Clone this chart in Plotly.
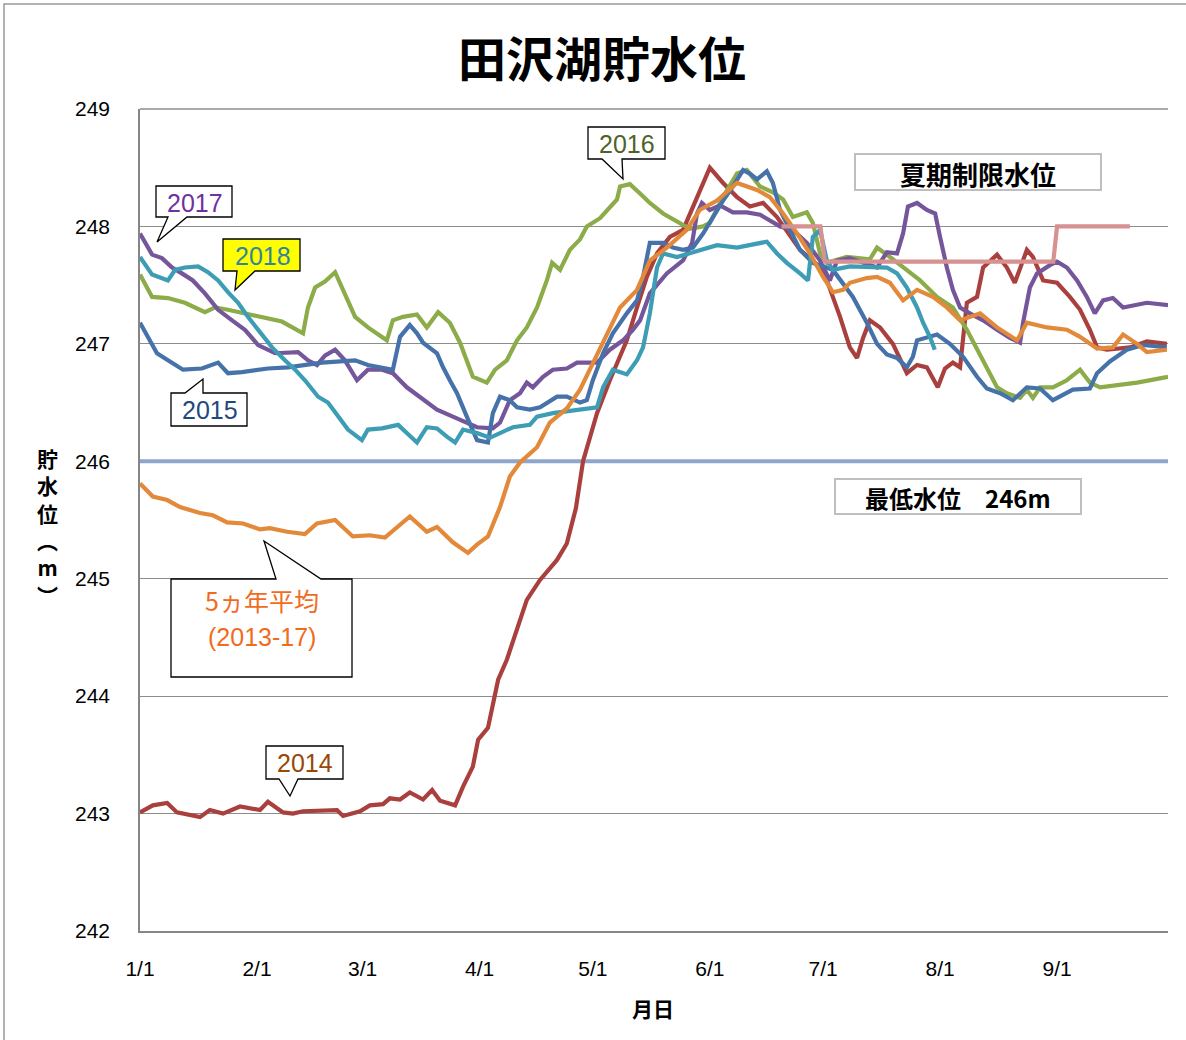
import plotly.graph_objects as go

# ---------------- data (x = days since Jan 1, y = water level in m) ----------------
month_ticks = [0, 31, 59, 90, 120, 151, 181, 212, 243]
month_labels = ["1/1", "2/1", "3/1", "4/1", "5/1", "6/1", "7/1", "8/1", "9/1"]

d2014 = [0, 3.4, 7.2, 9.8, 15.9, 18.5, 22, 26.5, 31.8, 33.9, 37.9, 40.5, 43.2, 52.2, 53.8, 58.3,
         60.9, 64.4, 66.2, 68.9, 71.5, 75, 77.4, 79.5, 83.5, 85.6, 88.2, 89.6, 92.2, 93.5, 94.9,
         97.2, 99.9, 102.5, 106, 110.5, 113.1, 115.5, 117.4, 121.1, 124.5, 127.2, 129, 131.7,
         134.3, 137, 140.4, 143.9, 147.6, 151, 154.5, 158.2, 161.6, 165.1, 168.8, 174.9, 181,
         185.5, 188.1, 190, 191.6, 193.4, 196.1, 199.5, 203.2, 205.9, 208.5, 211.4, 213.3, 215.4,
         217.3, 219.1, 221.8, 223.4, 227.1, 229.7, 231.8, 235, 236.6, 239.3, 243, 246.4, 249.1,
         251.7, 253.6, 256.2, 262.3, 266.8, 272.1]
v2014 = [243.01, 243.07, 243.09, 243.01, 242.97, 243.03, 243.0, 243.06, 243.03, 243.1, 243.01,
         243.0, 243.02, 243.03, 242.98, 243.02, 243.07, 243.08, 243.13, 243.12, 243.18, 243.12,
         243.2, 243.11, 243.07, 243.23, 243.4, 243.63, 243.73, 243.94, 244.14, 244.31, 244.56,
         244.82, 244.99, 245.16, 245.3, 245.6, 246.0, 246.41, 246.69, 246.9, 247.03, 247.31,
         247.57, 247.77, 247.91, 247.97, 248.25, 248.5, 248.37, 248.25, 248.17, 248.2, 248.08,
         247.8, 247.63, 247.23, 246.97, 246.88, 247.05, 247.2, 247.14, 247.0, 246.75, 246.82,
         246.8, 246.63, 246.79, 246.84, 246.8, 247.35, 247.4, 247.65, 247.76, 247.65, 247.52,
         247.8, 247.74, 247.54, 247.52, 247.4, 247.29, 247.12, 246.97, 246.95, 246.97, 247.02,
         247.0]

d2015 = [0, 2.1, 4.5, 7.4, 11.4, 16.4, 20.7, 23.3, 27, 33.9, 39.2, 48.2, 57, 60.4, 67, 68.9,
         71.5, 73.4, 75, 78.7, 80.3, 82.1, 84, 86.6, 89.3, 92.2, 93.5, 95.4, 98, 99.9, 103.3, 106,
         110.5, 113.1, 116.6, 118.4, 120, 122.7, 125.3, 129, 131.7, 133.3, 135.1, 138.6, 141.2,
         143.9, 146.5, 149.2, 151.8, 154.5, 157.1, 159.8, 161.6, 163.5, 166.1, 167.7, 169.6,
         172.2, 174.9, 178.3, 183.6, 188.9, 192.6, 195.3, 197.9, 200.6, 203.2, 204.8, 205.9,
         211.2, 214.6, 218.1, 221.8, 224.4, 227.9, 231.3, 235, 238.5, 241.9, 247.2, 251.7, 253.6,
         257, 261.5, 265.8, 272.1]
v2015 = [247.18, 247.06, 246.92, 246.86, 246.78, 246.79, 246.84, 246.75, 246.76, 246.79, 246.8,
         246.84, 246.86, 246.82, 246.78, 247.06, 247.16, 247.09, 247.01, 246.92, 246.8, 246.69,
         246.58, 246.38, 246.18, 246.16, 246.41, 246.55, 246.52, 246.46, 246.44, 246.46, 246.55,
         246.55, 246.5, 246.52, 246.69, 246.92, 247.09, 247.26, 247.37, 247.57, 247.86, 247.86,
         247.82, 247.8, 247.82, 247.94, 248.08, 248.22, 248.34, 248.48, 248.45, 248.4, 248.47,
         248.37, 248.14, 247.97, 247.8, 247.69, 247.63, 247.4, 247.18, 247.0, 246.91, 246.88,
         246.8, 246.89, 247.03, 247.08, 247.0, 246.89, 246.72, 246.62, 246.58, 246.52, 246.63,
         246.62, 246.52, 246.61, 246.62, 246.75, 246.85, 246.95, 246.99, 246.97]

d2016 = [0, 3.2, 7.4, 11.9, 17.2, 19.9, 23.3, 32.3, 37.6, 43.2, 44.5, 46.4, 49, 51.7, 54.3, 57,
         60.4, 64.1, 65.4, 67, 69.7, 73.4, 76, 79, 82.1, 84.8, 88.2, 91.9, 94.1, 97.2, 99.9,
         102.5, 105.2, 107.8, 109.2, 111.3, 113.9, 116.6, 118.4, 121.9, 124.5, 126.4, 127.2,
         129.8, 132.5, 135.1, 138.6, 143.1, 145.7, 149.2, 151, 154.5, 158.2, 160.8, 164.3, 167.7,
         170.4, 173, 176.7, 178.3, 180.2, 182, 187.3, 193.4, 195.3, 198.7, 203.2, 206.7, 211.2,
         215.4, 219.1, 221.8, 224.4, 227.1, 229.7, 233.2, 235, 236.6, 238.5, 241.9, 245.6, 249.1,
         251.7, 254.4, 264.2, 270.3, 272.4]
v2016 = [247.59, 247.4, 247.39, 247.35, 247.27, 247.31, 247.29, 247.23, 247.19, 247.09, 247.31,
         247.48, 247.53, 247.61, 247.43, 247.23, 247.14, 247.06, 247.03, 247.2, 247.23, 247.25,
         247.14, 247.27, 247.18, 247.01, 246.72, 246.67, 246.78, 246.86, 247.03, 247.14, 247.31,
         247.54, 247.69, 247.63, 247.8, 247.89, 248.0, 248.07, 248.17, 248.23, 248.34, 248.36,
         248.28, 248.2, 248.11, 248.03, 247.98, 248.0, 248.03, 248.25, 248.45, 248.48, 248.34,
         248.29, 248.23, 248.08, 248.12, 248.03, 247.77, 247.69, 247.74, 247.72, 247.82, 247.74,
         247.63, 247.54, 247.4, 247.31, 247.12, 246.95, 246.8, 246.63, 246.58, 246.54, 246.61,
         246.54, 246.63, 246.63, 246.69, 246.78, 246.67, 246.63, 246.67, 246.71, 246.72]

d2017 = [0, 1.3, 3.2, 5.8, 8.5, 11.1, 14, 17.2, 20.7, 24.4, 27.8, 31.3, 35.8, 41.9, 44.5, 46.9,
         49, 51.7, 54.3, 57.5, 60.4, 64.1, 67, 70.7, 74.2, 78.7, 82.9, 86.6, 89.3, 93.5, 95.4, 98,
         100.7, 102.5, 104.1, 106.8, 109.4, 113.1, 115.8, 121.1, 124.5, 128, 130.6, 132.5, 135.1,
         139.6, 143.9, 146.3, 147.6, 148.9, 151, 153.7, 157.1, 160.8, 164.3, 166.9, 169.6, 173,
         176.7, 180.2, 182.8, 184.7, 188.1, 195.3, 197.9, 200.6, 202.2, 203.5, 205.9, 208.5,
         210.7, 212, 213.8, 215.4, 217.3, 219.9, 223.4, 227.1, 230.5, 233.2, 234, 235.8, 237.7,
         241.1, 243, 245.6, 248.3, 250.9, 253, 255.2, 257.8, 260.5, 266.8, 272.4]
v2017 = [247.94, 247.86, 247.76, 247.73, 247.65, 247.6, 247.54, 247.43, 247.29, 247.2, 247.12,
         246.99, 246.92, 246.93, 246.86, 246.82, 246.9, 246.95, 246.86, 246.69, 246.78, 246.78,
         246.75, 246.63, 246.55, 246.44, 246.38, 246.33, 246.29, 246.28, 246.33, 246.52, 246.58,
         246.67, 246.63, 246.72, 246.78, 246.79, 246.84, 246.84, 246.95, 247.03, 247.12, 247.2,
         247.43, 247.6, 247.71, 247.86, 248.11, 248.2, 248.14, 248.18, 248.12, 248.12, 248.1,
         248.05, 248.0, 247.97, 247.86, 247.71, 247.54, 247.71, 247.73, 247.65, 247.78, 247.77,
         247.94, 248.17, 248.2, 248.14, 248.11, 247.91, 247.65, 247.46, 247.31, 247.26, 247.2,
         247.12, 247.05, 247.01, 247.18, 247.48, 247.6, 247.67, 247.7, 247.65, 247.54, 247.4,
         247.26, 247.37, 247.39, 247.31, 247.35, 247.33]

d2018 = [0, 3.2, 7.4, 9.3, 11.9, 15.4, 18, 20.7, 23.3, 26, 28.6, 31.3, 35, 38.4, 41.1, 43.7,
         47.2, 49.8, 52.5, 55.1, 58.8, 60.4, 64.1, 68.4, 70.7, 73.4, 76, 78.7, 81.3, 83.5, 85.6,
         89.3, 92.7, 95.4, 98.8, 103.3, 105.2, 109.4, 116.6, 121.1, 122.7, 125.3, 129, 131.7,
         133.3, 135.1, 137, 138.6, 142.3, 149.2, 152.9, 158.2, 164.3, 166.1, 168.8, 171.4, 174.9,
         177, 178.3, 180.2, 182, 183.6, 188.1, 197.9, 200.6, 203.2, 205.9, 207.5, 209.3, 210.6]
v2018 = [247.74, 247.59, 247.54, 247.63, 247.65, 247.66, 247.61, 247.54, 247.44, 247.35, 247.23,
         247.12, 246.97, 246.86, 246.78, 246.69, 246.55, 246.5, 246.38, 246.27, 246.18, 246.27,
         246.28, 246.31, 246.24, 246.16, 246.29, 246.28, 246.21, 246.16, 246.27, 246.24, 246.2,
         246.24, 246.29, 246.31, 246.38, 246.41, 246.44, 246.46, 246.63, 246.78, 246.74, 246.86,
         246.97, 247.26, 247.65, 247.77, 247.74, 247.8, 247.84, 247.82, 247.86, 247.87, 247.77,
         247.69, 247.6, 247.54, 247.91, 247.97, 247.71, 247.63, 247.66, 247.65, 247.6, 247.48,
         247.31, 247.18, 247.06, 246.95]

d_avg = [0, 3.4, 7.2, 10.6, 15.9, 19.3, 23.1, 27.3, 31.8, 34.4, 39, 43.7, 46.9, 51.7, 56.4,
         60.9, 64.9, 68.1, 71.5, 76, 78.7, 82.9, 86.9, 89.3, 92.2, 95.4, 98, 100.7, 105.2, 108.6,
         113.1, 116.6, 119.2, 123.7, 127.2, 131.7, 135.1, 139.6, 144.9, 148.3, 152.9, 158.2,
         163.5, 166.9, 170.4, 174.1, 177.5, 181, 183.6, 186.3, 188.1, 192.6, 195.3, 198.7, 202.2,
         205.9, 210.1, 213.8, 217.3, 222.6, 227.1, 232.4, 235, 240.3, 245.6, 249.1, 253.6, 257.8,
         260.5, 264.2, 266.8, 272.1]
v_avg = [245.81, 245.7, 245.67, 245.61, 245.56, 245.54, 245.48, 245.47, 245.42, 245.43, 245.4,
         245.38, 245.47, 245.5, 245.36, 245.37, 245.35, 245.44, 245.53, 245.4, 245.44, 245.31,
         245.22, 245.29, 245.36, 245.61, 245.87, 245.99, 246.12, 246.33, 246.45, 246.61, 246.78,
         247.09, 247.31, 247.46, 247.71, 247.82, 247.97, 248.14, 248.22, 248.37, 248.31, 248.25,
         248.11, 247.94, 247.77, 247.57, 247.44, 247.46, 247.52, 247.56, 247.57, 247.52, 247.37,
         247.46, 247.4, 247.31, 247.2, 247.26, 247.14, 247.03, 247.18, 247.14, 247.12, 247.06,
         246.96, 246.97, 247.08, 247.0, 246.93, 246.95]

d_limit = [170, 180.3, 181.5, 242, 243, 262.3]
v_limit = [248.0, 248.0, 247.7, 247.7, 248.0, 248.0]

d_min = [0, 272.4]
v_min = [246.0, 246.0]

# ---------------- figure ----------------
W, H = 1186, 1040
L, R, T, B = 140, 1168, 109, 931


def P(px, py):
    """pixel position on the page -> paper coordinates"""
    return (px - L) / (R - L), (B - py) / (B - T)


fig = go.Figure()

fig.add_trace(go.Scatter(x=d_min, y=v_min, mode="lines", name="最低水位",
                         line=dict(color="#8EA6CC", width=4)))
series = [
    ("2014", d2014, v2014, "#A9403D"),
    ("2016", d2016, v2016, "#8CAC4A"),
    ("2017", d2017, v2017, "#76569A"),
    ("2015", d2015, v2015, "#4672AA"),
    ("2018", d2018, v2018, "#3C9DB5"),
    ("5ヵ年平均", d_avg, v_avg, "#E2893A"),
]
for name, d, v, c in series:
    fig.add_trace(go.Scatter(x=d, y=v, mode="lines", name=name,
                             line=dict(color=c, width=4.2)))
fig.add_trace(go.Scatter(x=d_limit, y=v_limit, mode="lines", name="夏期制限水位",
                         line=dict(color="#D69190", width=4.2)))

shapes = []
annotations = []

# outer chart border
x0, y0 = P(4, 4)
x1, y1 = P(1200, 1060)
shapes.append(dict(type="rect", xref="paper", yref="paper", x0=x0, y0=y1, x1=x1, y1=y0,
                   line=dict(color="#9A9A9A", width=1.5), layer="below"))
# top grid line at 249
shapes.append(dict(type="line", xref="paper", yref="paper", x0=0, x1=1, y0=1, y1=1,
                   line=dict(color="#8C8C8C", width=1.3), layer="below"))


def poly(points, fill="white"):
    path = ""
    for i, (px, py) in enumerate(points):
        xp, yp = P(px, py)
        path += ("M" if i == 0 else "L") + f"{xp:.5f},{yp:.5f} "
    path += "Z"
    shapes.append(dict(type="path", xref="paper", yref="paper", path=path,
                       fillcolor=fill, line=dict(color="black", width=1.3), layer="above"))


def text(px, py, s, color, size=24, bold=False, family="Liberation Sans"):
    xp, yp = P(px, py)
    if bold:
        s = f"<b>{s}</b>"
    annotations.append(dict(x=xp, y=yp, xref="paper", yref="paper", text=s, showarrow=False,
                            xanchor="center", yanchor="middle",
                            font=dict(size=size, color=color, family=family)))


callout_font = "Liberation Sans"

# 2016
poly([(588, 127), (665, 127), (665, 159), (622, 159), (623, 179), (602, 159), (588, 159)])
text(627, 144, "2016", "#4F6228", size=25, family=callout_font)
# 2017
poly([(156, 186), (232, 186), (232, 217), (187, 217), (157, 242), (168, 217), (156, 217)])
text(195, 203, "2017", "#7030A0", size=25, family=callout_font)
# 2018
poly([(223, 239), (300, 239), (300, 271), (255, 271), (235, 290), (237, 271), (223, 271)],
     fill="#FFFF00")
text(263, 256, "2018", "#31859C", size=25, family=callout_font)
# 2015
poly([(171, 393), (185, 393), (203, 379), (203, 393), (247, 393), (247, 426), (171, 426)])
text(210, 410, "2015", "#1F497D", size=25, family=callout_font)
# 5-year average
poly([(171, 579), (276, 579), (264, 541), (321, 579), (352, 579), (352, 677), (171, 677)])
text(262, 600, "5ヵ年平均", "#F26B1D", size=25, family="Noto Sans CJK JP")
text(262, 637, "(2013-17)", "#F26B1D", size=25, family=callout_font)
# 2014
poly([(266, 746), (343, 746), (343, 779), (298, 779), (290, 796), (279, 779), (266, 779)])
text(305, 763, "2014", "#984807", size=25, family=callout_font)

# label boxes
for (bx0, by0, bx1, by1, s, fs) in [(855, 154, 1101, 190, "夏期制限水位", 26),
                                    (835, 479, 1081, 514, "最低水位\u3000246m", 24)]:
    a, b = P(bx0, by0)
    c, d = P(bx1, by1)
    shapes.append(dict(type="rect", xref="paper", yref="paper", x0=a, y0=d, x1=c, y1=b,
                       fillcolor="white", line=dict(color="#BFBFBF", width=2), layer="above"))
    text((bx0 + bx1) / 2, (by0 + by1) / 2 + 1, s, "black", size=fs, bold=True,
         family="Noto Sans CJK JP")

# title
text(602, 56, "田沢湖貯水位", "black", size=48, bold=True, family="Noto Sans CJK JP")
# x-axis title
text(653, 1008, "月日", "black", size=21, bold=True, family="Noto Sans CJK JP")
# y-axis title (stacked upright characters, one annotation)
xp, yp = P(47, 526)
annotations.append(dict(x=xp, y=yp, xref="paper", yref="paper",
                        text="<br>".join(["<b>貯</b>", "<b>水</b>", "<b>位</b>", "<b>︵</b>",
                                          "<b>m</b>", "<b>︶</b>"]),
                        showarrow=False, xanchor="center", yanchor="middle",
                        font=dict(size=21, color="black", family="Noto Sans CJK JP")))

fig.update_layout(
    width=W, height=H,
    margin=dict(l=L, r=W - R, t=T, b=H - B, pad=0),
    paper_bgcolor="white", plot_bgcolor="white",
    showlegend=False,
    shapes=shapes, annotations=annotations,
    xaxis=dict(range=[0, 272.4], tickmode="array", tickvals=month_ticks, ticktext=month_labels,
               showgrid=False, zeroline=False, showline=True, linecolor="#868686", linewidth=1.5,
               ticks="", ticklabelstandoff=18,
               tickfont=dict(size=21, color="black",
                             family="Liberation Sans Narrow, Liberation Sans")),
    yaxis=dict(range=[242, 249], dtick=1, tick0=242, showgrid=True, gridcolor="#8C8C8C",
               gridwidth=1.3, zeroline=False, showline=True, linecolor="#868686", linewidth=1.5,
               ticks="", ticklabelstandoff=24,
               tickfont=dict(size=21, color="black", family="Liberation Sans")),
)

fig.write_html("out.html", post_script="document.body.style.margin='0';",
               config={"displayModeBar": False})
